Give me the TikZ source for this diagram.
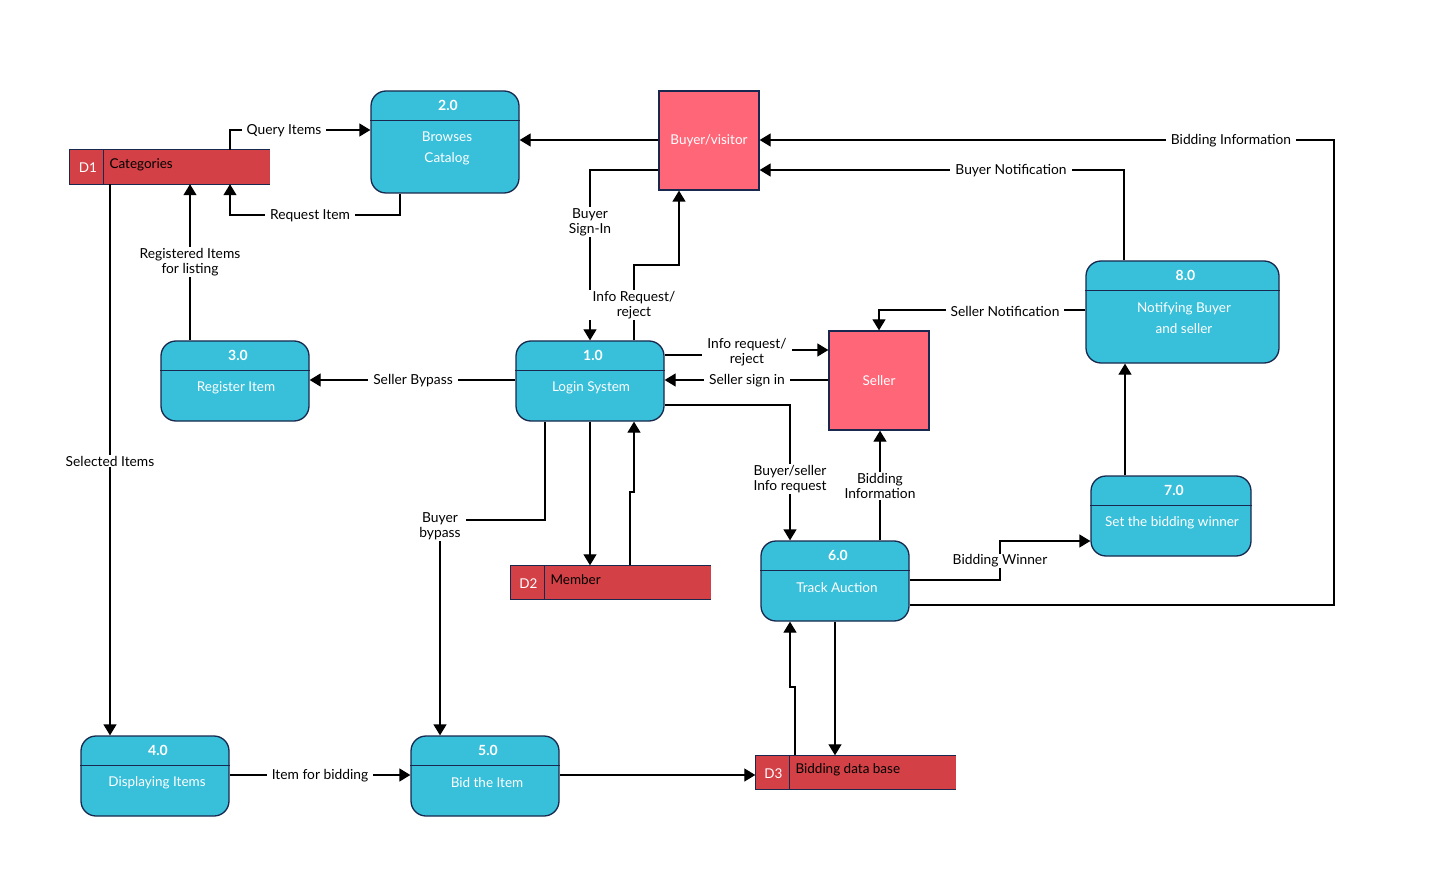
\documentclass[tikz,border=0pt]{standalone}
\usepackage{fontspec}
\setmainfont{Lato}
\usetikzlibrary{arrows.meta}

\definecolor{procblue}{RGB}{56,192,218}
\definecolor{entpink}{RGB}{255,102,120}
\definecolor{storered}{RGB}{211,64,69}
\definecolor{edgeblue}{RGB}{24,40,78}

\begin{document}
\begin{tikzpicture}[x=1pt,y=-1pt,
  proc/.style={draw=edgeblue, line width=1.3pt, fill=procblue, rounded corners=15pt,
    minimum width=148pt, minimum height=80pt, inner sep=0pt},
  psep/.style={draw=edgeblue, line width=1.3pt},
  ptitle/.style={text=white, font=\bfseries\fontsize{14}{16}\selectfont},
  ptext/.style={text=white, align=center, font=\fontsize{13.5}{21}\selectfont},
  ext/.style={draw=edgeblue, line width=1.3pt, fill=entpink, minimum width=100pt,
    minimum height=99pt, inner sep=0pt, text=white, font=\fontsize{13.5}{16}\selectfont},
  store/.style={fill=storered, draw=none, minimum width=200pt, minimum height=34pt, inner sep=0pt},
  sid/.style={text=white, font=\fontsize{13.5}{16}\selectfont},
  sname/.style={anchor=west, font=\fontsize{13.5}{16}\selectfont},
  flow/.style={draw=black, line width=1.3pt, -{Triangle[length=11pt,width=13pt]}},
  lbl/.style={fill=white, align=center, inner xsep=5pt, inner ysep=1pt,
    font=\fontsize{13.8}{15}\selectfont}
]
\useasboundingbox (0,0) rectangle (1430,885);

% ---- Processes ----
\node[proc, minimum height=102pt] (p2) at (445,142) {};
\draw[psep] ([yshift=-30pt]p2.north west) -- ([yshift=-30pt]p2.north east);
\node[ptitle] (p2t) at ([xshift=3pt,yshift=-15pt]p2.north) {2.0};
\node[ptext] (p2b) at (447,148) {Browses\\Catalog};

\node[proc] (p1) at (590,381) {};
\draw[psep] ([yshift=-30pt]p1.north west) -- ([yshift=-30pt]p1.north east);
\node[ptitle] (p1t) at ([xshift=3pt,yshift=-15pt]p1.north) {1.0};
\node[ptext] (p1b) at (591,388) {Login System};

\node[proc] (p3) at (235,381) {};
\draw[psep] ([yshift=-30pt]p3.north west) -- ([yshift=-30pt]p3.north east);
\node[ptitle] (p3t) at ([xshift=3pt,yshift=-15pt]p3.north) {3.0};
\node[ptext] (p3b) at (236,388) {Register Item};

\node[proc, minimum width=193pt, minimum height=102pt] (p8) at (1182.5,312) {};
\draw[psep] ([yshift=-30pt]p8.north west) -- ([yshift=-30pt]p8.north east);
\node[ptitle] (p8t) at ([xshift=3pt,yshift=-15pt]p8.north) {8.0};
\node[ptext] (p8b) at (1184,318) {Notifying Buyer\\and seller};

\node[proc, minimum width=160pt] (p7) at (1171,516) {};
\draw[psep] ([yshift=-30pt]p7.north west) -- ([yshift=-30pt]p7.north east);
\node[ptitle] (p7t) at ([xshift=3pt,yshift=-15pt]p7.north) {7.0};
\node[ptext] (p7b) at (1172,523) {Set the bidding winner};

\node[proc] (p6) at (835,581) {};
\draw[psep] ([yshift=-30pt]p6.north west) -- ([yshift=-30pt]p6.north east);
\node[ptitle] (p6t) at ([xshift=3pt,yshift=-15pt]p6.north) {6.0};
\node[ptext] (p6b) at (837,588) {Track Auction};

\node[proc] (p4) at (155,776) {};
\draw[psep] ([yshift=-30pt]p4.north west) -- ([yshift=-30pt]p4.north east);
\node[ptitle] (p4t) at ([xshift=3pt,yshift=-15pt]p4.north) {4.0};
\node[ptext] (p4b) at (157,783) {Displaying Items};

\node[proc] (p5) at (485,776) {};
\draw[psep] ([yshift=-30pt]p5.north west) -- ([yshift=-30pt]p5.north east);
\node[ptitle] (p5t) at ([xshift=3pt,yshift=-15pt]p5.north) {5.0};
\node[ptext] (p5b) at (487,783) {Bid the Item};

% ---- External entities ----
\node[ext] (e1) at (709,140.5) {Buyer/visitor};
\node[ext] (e2) at (879,380.5) {Seller};

% ---- Data stores ----
\node[store] (d1) at (170,167) {};
\draw[psep] (d1.north east) -- (d1.north west) -- (d1.south west) -- (d1.south east);
\draw[psep] ([xshift=34pt]d1.north west) -- ([xshift=34pt]d1.south west);
\node[sid] (d1id) at ([xshift=18pt,yshift=-1pt]d1.west) {D1};
\node[sname] (d1n) at (106,165) {Categories};

\node[store] (d2) at (610.5,582.5) {};
\draw[psep] (d2.north east) -- (d2.north west) -- (d2.south west) -- (d2.south east);
\draw[psep] ([xshift=34pt]d2.north west) -- ([xshift=34pt]d2.south west);
\node[sid] (d2id) at ([xshift=18pt,yshift=-1pt]d2.west) {D2};
\node[sname] (d2n) at (547,580) {Member};

\node[store] (d3) at (855.5,772.5) {};
\draw[psep] (d3.north east) -- (d3.north west) -- (d3.south west) -- (d3.south east);
\draw[psep] ([xshift=34pt]d3.north west) -- ([xshift=34pt]d3.south west);
\node[sid] (d3id) at ([xshift=18pt,yshift=-1pt]d3.west) {D3};
\node[sname] (d3n) at (792,770) {Bidding data base};

% ---- Data flows ----
\draw[flow] (d1.north -| 230,0) |- (p2.west |- 0,130);
\draw[flow] (p2.south -| 400,0) |- (230,215) -- (d1.south -| 230,0);
\draw[flow] (p3.north -| 190,0) -- (d1.south -| 190,0);
\draw[flow] (d1.south -| 110,0) -- (p4.north -| 110,0);
\draw[flow] (e1.west |- 0,140) -- (p2.east |- 0,140);
\draw[flow] (e1.west |- 0,170) -| (p1.north);
\draw[flow] (p1.north -| 634,0) |- (679,265) -- (e1.south -| 679,0);
\draw[flow] (p6.east |- 0,605) -| (1334,140) -- (e1.east |- 0,140);
\draw[flow] (p8.north -| 1124,0) |- (e1.east |- 0,170);
\draw[flow] (p8.west |- 0,310) -| (e2.north);
\draw[flow] (p1.east |- 0,355) -- (747,355) |- (e2.west |- 0,350);
\draw[flow] (e2.west |- 0,380) -- (p1.east |- 0,380);
\draw[flow] (p1.west |- 0,380) -- (p3.east |- 0,380);
\draw[flow] (p1.south -| 545,0) |- (440,520) -- (p5.north -| 440,0);
\draw[flow] (p1.south) -- (d2.north -| 590,0);
\draw[flow] (d2.north -| 630,0) -- (630,492) -| (p1.south -| 634,0);
\draw[flow] (p1.east |- 0,405) -| (p6.north -| 790,0);
\draw[flow] (p6.north -| 880,0) -- (e2.south -| 880,0);
\draw[flow] (p6.east |- 0,580) -| (1000,541) -- (p7.west |- 0,541);
\draw[flow] (p7.north -| 1125,0) -- (p8.south -| 1125,0);
\draw[flow] (p4.east |- 0,775) -- (p5.west |- 0,775);
\draw[flow] (p5.east |- 0,775) -- (d3.west |- 0,775);
\draw[flow] (p6.south) -- (d3.north -| 835,0);
\draw[flow] (d3.north -| 795,0) -- (795,687) -| (p6.south -| 790,0);

% ---- Flow labels ----
\node[lbl] (lquery) at (284,131) {Query Items};
\node[lbl] (lrequest) at (310,216) {Request Item};
\node[lbl] (lregistered) at (190,262) {Registered Items\\for listing};
\node[lbl] (lselected) at (110,461) {Selected Items};
\node[lbl] (lsignin) at (590,222) {Buyer\\Sign-In};
\node[lbl] (linforeq) at (634,305) {Info Request/\\reject};
\node[lbl] (lbidinfo) at (1231,141) {Bidding Information};
\node[lbl] (lbuyernote) at (1011,171) {Buyer Notification};
\node[lbl] (lsellernote) at (1005,311) {Seller Notification};
\node[lbl] (lsellerreq) at (747,352) {Info request/\\reject};
\node[lbl] (lsellersign) at (747,381) {Seller sign in};
\node[lbl] (lsellerbypass) at (413,381) {Seller Bypass};
\node[lbl] (lbuyerbypass) at (440,526) {Buyer\\bypass};
\node[lbl] (lbsinfo) at (790,479) {Buyer/seller\\Info request};
\node[lbl] (lbidinfo2) at (880,486) {Bidding\\Information};
\node[lbl] (lwinner) at (1000,561) {Bidding Winner};
\node[lbl] (lbidding) at (320,776) {Item for bidding};

\end{tikzpicture}
\end{document}
